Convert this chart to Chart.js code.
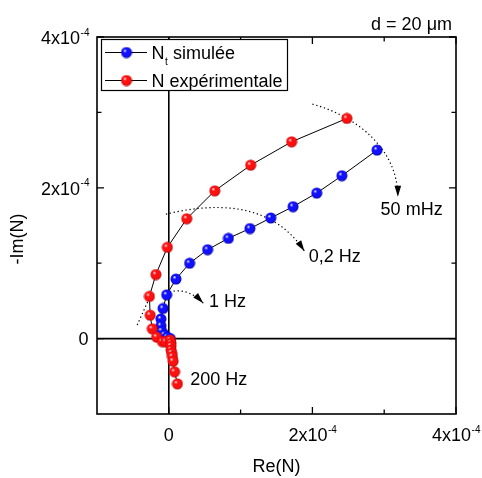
<!DOCTYPE html>
<html>
<head>
<meta charset="utf-8">
<script src="https://cdn.jsdelivr.net/npm/chart.js@4.4.0/dist/chart.umd.min.js"></script>
<style>
  html, body { margin: 0; padding: 0; background: #fff; }
  #wrap { position: relative; width: 482px; height: 478px; }
</style>
</head>
<body>
<div id="wrap"><canvas id="c"></canvas></div>
<script>
var simRe = [2.90e-4, 2.41e-4, 2.06e-4, 1.73e-4, 1.42e-4, 1.13e-4, 0.83e-4, 0.54e-4, 0.29e-4, 0.10e-4,
             -0.03e-4, -0.08e-4, -0.11e-4, -0.11e-4, -0.10e-4, -0.06e-4, -0.02e-4, 0.02e-4];
var simIm = [2.50e-4, 2.16e-4, 1.93e-4, 1.75e-4, 1.60e-4, 1.46e-4, 1.33e-4, 1.18e-4, 1.00e-4, 0.79e-4,
             0.58e-4, 0.40e-4, 0.26e-4, 0.17e-4, 0.10e-4, 0.05e-4, 0.02e-4, 0.00];

var expRe = [2.48e-4, 1.71e-4, 1.14e-4, 0.64e-4, 0.25e-4, -0.02e-4, -0.18e-4, -0.27e-4, -0.26e-4, -0.23e-4,
             -0.17e-4, -0.09e-4, -0.04e-4, 0.02e-4, 0.03e-4, 0.03e-4, 0.03e-4, 0.04e-4, 0.05e-4, 0.06e-4,
             0.08e-4, 0.12e-4];
var expIm = [2.92e-4, 2.61e-4, 2.30e-4, 1.96e-4, 1.59e-4, 1.21e-4, 0.85e-4, 0.56e-4, 0.31e-4, 0.13e-4,
             0.02e-4, -0.04e-4, -0.04e-4, -0.02e-4, -0.06e-4, -0.10e-4, -0.15e-4, -0.19e-4, -0.24e-4, -0.30e-4,
             -0.44e-4, -0.60e-4];

var labelTicks = [0, 2e-4, 4e-4];
var minorTicks = [1e-4, 3e-4];
var axisMin = -1e-4, axisMax = 4e-4;

// frequency markers (dotted curves, data units: start, ctrl1, ctrl2, end=arrow tip)
var arcs = [
  [[2.00e-4, 3.11e-4], [2.61e-4, 2.95e-4], [3.19e-4, 2.52e-4], [3.19e-4, 1.88e-4]],
  [[-0.04e-4, 1.65e-4], [0.57e-4, 1.79e-4], [1.41e-4, 1.85e-4], [1.89e-4, 1.16e-4]],
  [[-0.04e-4, 0.60e-4], [0.13e-4, 0.67e-4], [0.32e-4, 0.63e-4], [0.48e-4, 0.47e-4]]
];
var freqLabels = ['50 mHz', '0,2 Hz', '1 Hz', '200 Hz'];
var freqPos = [[2.95e-4, 1.72e-4], [1.95e-4, 1.10e-4], [0.56e-4, 0.50e-4], [0.30e-4, -0.53e-4]];
var leftDots = [[-0.44e-4, 0.18e-4], [-0.26e-4, 0.56e-4]];

var FONT = '"Liberation Sans", Arial, Helvetica, sans-serif';

function ball(col, dark) {
  var c = document.createElement('canvas');
  c.width = 12; c.height = 12;
  var g = c.getContext('2d');
  var gr = g.createRadialGradient(4.2, 4.0, 0.2, 6, 6, 5.8);
  gr.addColorStop(0, '#ffffff');
  gr.addColorStop(0.28, col);
  gr.addColorStop(0.75, col);
  gr.addColorStop(1, dark);
  g.fillStyle = gr;
  g.beginPath();
  g.arc(6, 6, 5.5, 0, Math.PI * 2);
  g.fill();
  return c;
}
var blueBall = ball('#1010ff', '#000090');
var redBall = ball('#ff1010', '#a00000');

function pts(xs, ys) {
  return xs.map(function(x, i) { return {x: x, y: ys[i]}; });
}

function powText(ctx, mant, x, y, align) {
  ctx.font = '18px ' + FONT;
  var w1 = ctx.measureText(mant).width;
  ctx.font = '10px ' + FONT;
  var w2 = ctx.measureText('-4').width;
  var w = w1 + w2;
  var x0 = align === 'right' ? x - w : (align === 'center' ? x - w / 2 : x);
  ctx.textAlign = 'left';
  ctx.textBaseline = 'alphabetic';
  ctx.font = '18px ' + FONT;
  ctx.fillText(mant, x0, y);
  ctx.font = '10px ' + FONT;
  ctx.fillText('-4', x0 + w1 + 0.5, y - 8.5);
}

var decor = {
  id: 'decor',
  beforeDatasetsDraw: function(chart) {
    var ctx = chart.ctx, a = chart.chartArea;
    var xs = chart.scales.x, ys = chart.scales.y;
    var X = function(v) { return xs.getPixelForValue(v); };
    var Y = function(v) { return ys.getPixelForValue(v); };
    ctx.save();
    ctx.strokeStyle = '#000';
    ctx.fillStyle = '#000';

    // zero lines
    ctx.lineWidth = 1.6;
    ctx.beginPath();
    ctx.moveTo(X(0), a.top); ctx.lineTo(X(0), a.bottom);
    ctx.moveTo(a.left, Y(0)); ctx.lineTo(a.right, Y(0));
    ctx.stroke();

    // dotted frequency curves
    ctx.lineWidth = 1.2;
    ctx.setLineDash([1.3, 2.7]);
    arcs.forEach(function(p) {
      ctx.beginPath();
      ctx.moveTo(X(p[0][0]), Y(p[0][1]));
      ctx.bezierCurveTo(X(p[1][0]), Y(p[1][1]), X(p[2][0]), Y(p[2][1]), X(p[3][0]), Y(p[3][1]));
      ctx.stroke();
    });
    ctx.beginPath();
    ctx.moveTo(X(leftDots[0][0]), Y(leftDots[0][1]));
    ctx.lineTo(X(leftDots[1][0]), Y(leftDots[1][1]));
    ctx.stroke();
    ctx.setLineDash([]);

    // arrow heads
    arcs.forEach(function(p) {
      var tx = X(p[3][0]), ty = Y(p[3][1]);
      var dx = tx - X(p[2][0]), dy = ty - Y(p[2][1]);
      var l = Math.sqrt(dx * dx + dy * dy); dx /= l; dy /= l;
      var L = 11, W = 3.3;
      ctx.beginPath();
      ctx.moveTo(tx, ty);
      ctx.lineTo(tx - dx * L - dy * W, ty - dy * L + dx * W);
      ctx.lineTo(tx - dx * L + dy * W, ty - dy * L - dx * W);
      ctx.closePath();
      ctx.fill();
    });

    // frame
    ctx.lineWidth = 1.6;
    ctx.strokeRect(a.left, a.top, a.right - a.left, a.bottom - a.top);

    // inward ticks
    ctx.lineWidth = 1.3;
    ctx.beginPath();
    labelTicks.concat(minorTicks).forEach(function(v) {
      var len = labelTicks.indexOf(v) >= 0 ? 7 : 4.5;
      var px = X(v), py = Y(v);
      ctx.moveTo(px, a.bottom); ctx.lineTo(px, a.bottom - len);
      ctx.moveTo(px, a.top); ctx.lineTo(px, a.top + len);
      ctx.moveTo(a.left, py); ctx.lineTo(a.left + len, py);
      ctx.moveTo(a.right, py); ctx.lineTo(a.right - len, py);
    });
    ctx.stroke();
    ctx.restore();
  },
  afterDraw: function(chart) {
    var ctx = chart.ctx, a = chart.chartArea;
    var xs = chart.scales.x, ys = chart.scales.y;
    ctx.save();
    ctx.fillStyle = '#000';

    // tick labels
    labelTicks.forEach(function(v) {
      var px = xs.getPixelForValue(v), py = ys.getPixelForValue(v);
      if (v === 0) {
        ctx.font = '18px ' + FONT;
        ctx.textBaseline = 'alphabetic';
        ctx.textAlign = 'center';
        ctx.fillText('0', px, 441);
        ctx.textAlign = 'right';
        ctx.fillText('0', 88.5, py + 6);
      } else {
        var m = String(Math.round(v * 1e4)) + 'x10';
        powText(ctx, m, px, 441, 'center');
        powText(ctx, m, 89, py + 7, 'right');
      }
    });

    // axis titles
    ctx.font = '18px ' + FONT;
    ctx.textAlign = 'center';
    ctx.textBaseline = 'alphabetic';
    ctx.fillText('Re(N)', (a.left + a.right) / 2, 472);
    ctx.save();
    ctx.translate(23, 239);
    ctx.rotate(-Math.PI / 2);
    ctx.fillText('-Im(N)', 0, 0);
    ctx.restore();

    // frequency labels
    ctx.textAlign = 'left';
    ctx.textBaseline = 'middle';
    freqLabels.forEach(function(t, i) {
      ctx.fillText(t, xs.getPixelForValue(freqPos[i][0]), ys.getPixelForValue(freqPos[i][1]) + 1);
    });

    // thickness note
    ctx.textAlign = 'right';
    ctx.textBaseline = 'alphabetic';
    ctx.fillText('d = 20 \u03bcm', 452, 30);

    // legend
    ctx.fillStyle = '#fff';
    ctx.fillRect(101.5, 39.5, 186, 51);
    ctx.strokeStyle = '#000';
    ctx.lineWidth = 1.2;
    ctx.strokeRect(101.5, 39.5, 186, 51);
    var rows = [[52.5, blueBall], [80.5, redBall]];
    rows.forEach(function(r) {
      ctx.lineWidth = 1;
      ctx.beginPath();
      ctx.moveTo(105, r[0]); ctx.lineTo(147, r[0]);
      ctx.stroke();
      ctx.drawImage(r[1], 126.5 - 6, r[0] - 6);
    });
    ctx.fillStyle = '#000';
    ctx.textAlign = 'left';
    ctx.font = '18px ' + FONT;
    ctx.fillText('N', 151.5, 58.5);
    var wN = ctx.measureText('N').width;
    ctx.font = '10px ' + FONT;
    ctx.fillText('t', 151.5 + wN + 0.5, 65);
    ctx.font = '18px ' + FONT;
    ctx.fillText(' simulée', 151.5 + wN + 3.5, 58.5);
    ctx.fillText('N expérimentale', 151.5, 86.5);
    ctx.restore();
  }
};

new Chart(document.getElementById('c'), {
  type: 'scatter',
  data: {
    datasets: [
      {
        label: 'N expérimentale',
        data: pts(expRe, expIm),
        showLine: true,
        borderColor: '#000',
        borderWidth: 1,
        pointStyle: redBall,
        pointRadius: 5.5,
        tension: 0
      },
      {
        label: 'Nt simulée',
        data: pts(simRe, simIm),
        showLine: true,
        borderColor: '#000',
        borderWidth: 1,
        pointStyle: blueBall,
        pointRadius: 5.5,
        tension: 0
      }
    ]
  },
  options: {
    responsive: true,
    maintainAspectRatio: false,
    animation: false,
    events: [],
    layout: { padding: { left: 97, right: 26, top: 37, bottom: 64 } },
    plugins: { legend: { display: false }, tooltip: { enabled: false } },
    scales: {
      x: { type: 'linear', min: axisMin, max: axisMax, display: false },
      y: { type: 'linear', min: axisMin, max: axisMax, display: false }
    }
  },
  plugins: [decor]
});
</script>
</body>
</html>
